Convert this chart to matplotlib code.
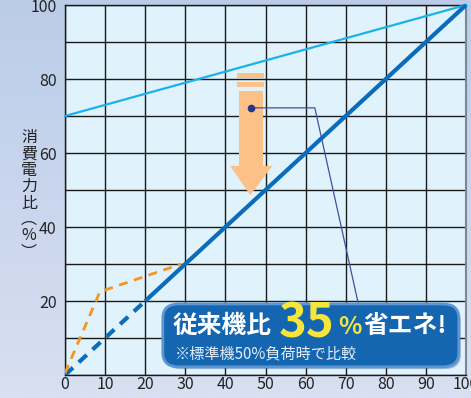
import numpy as np
import matplotlib
matplotlib.use("Agg")
import matplotlib.pyplot as plt
from matplotlib.patches import Rectangle, Polygon, FancyBboxPatch

plt.rcParams['font.family'] = ['Noto Sans CJK JP', 'DejaVu Sans']

# ---- data ----
x_ticks = [0, 10, 20, 30, 40, 50, 60, 70, 80, 90, 100]
y_ticks = [0, 10, 20, 30, 40, 50, 60, 70, 80, 90, 100]
y_tick_labels = ["", "", "20", "", "40", "", "60", "", "80", "", "100"]

cyan_x = [0, 100]
cyan_y = [70, 100]
blue_dash_x = [0, 20]
blue_dash_y = [0, 20]
blue_solid_x = [20, 100]
blue_solid_y = [20, 100]
orange_x = [0, 8.7, 29]
orange_y = [0.5, 22.5, 30]

ylabel_text = "消\n費\n電\n力\n比\n︵\n%\n︶"
headline_a = "従来機比"
headline_num = "35"
headline_pct = "%"
headline_b = "省エネ!"
note_text = "※標準機50%負荷時で比較"

# ---- figure ----
fig = plt.figure(figsize=(4.71, 3.98), dpi=100)

bg = fig.add_axes([0, 0, 1, 1], zorder=-10)
grad = np.linspace(0, 1, 256).reshape(-1, 1)
c_top = np.array([0xBB, 0xCC, 0xE9]) / 255
c_bot = np.array([0xD8, 0xE0, 0xF1]) / 255
img = c_top[None, None, :] * (1 - grad[:, :, None]) + c_bot[None, None, :] * grad[:, :, None]
bg.imshow(img, aspect='auto', extent=[0, 1, 0, 1], origin='upper')
bg.set_axis_off()

ax = fig.add_axes([65 / 471, 23 / 398, 401 / 471, 370 / 398])
ax.set_facecolor('#E0F2FC')
ax.set_xlim(0, 100)
ax.set_ylim(0, 100)
ax.set_xticks(x_ticks)
ax.set_yticks(y_ticks)
ax.set_xticklabels([str(v) for v in x_ticks])
ax.set_yticklabels(y_tick_labels)
ax.tick_params(length=0, labelsize=11.5, colors='#222222', pad=6)
ax.tick_params(axis='x', pad=1)
ax.grid(True, color='#1a1a1a', lw=1.0, zorder=0)
ax.set_axisbelow(True)
for s in ['left', 'bottom', 'top']:
    ax.spines[s].set_color('#1a1a1a')
    ax.spines[s].set_linewidth(1.0)
ax.spines['right'].set_color('#7b8796')
ax.spines['right'].set_linewidth(1.5)

# arrow (light orange)
arrow_c = '#FCC187'
ax.add_patch(Rectangle((42.9, 80.2), 6.85, 1.5, color=arrow_c, lw=0, zorder=2))
ax.add_patch(Rectangle((42.9, 77.9), 6.85, 1.3, color=arrow_c, lw=0, zorder=2))
ax.add_patch(Rectangle((43.3, 56.3), 6.1, 20.5, color=arrow_c, lw=0, zorder=2))
ax.add_patch(Polygon([(41.2, 56.5), (51.7, 56.5), (46.2, 48.6)], closed=True,
                     color=arrow_c, lw=0, zorder=2))

# lines
ax.plot(cyan_x, cyan_y, color='#1AB2EA', lw=1.6, zorder=3, clip_on=False)
ax.plot(blue_dash_x, blue_dash_y, color='#0A6DBC', lw=3.0, ls=(0, (2.6, 1.9)),
        zorder=3)
ax.plot(blue_solid_x, blue_solid_y, color='#0A6DBC', lw=3.0, zorder=3,
        solid_capstyle='butt', clip_on=False)
ax.plot(orange_x, orange_y, color='#F7941D', lw=2.0, ls=(0, (3.2, 2.4)), zorder=3)

# callout leader
ax.plot([46.4, 62.3, 73.3], [72.2, 72.2, 18.5], color='#3F52A0', lw=0.9, zorder=4)
ax.plot([46.4], [72.2], 'o', color='#24368A', ms=4.5, zorder=5)

# callout box
shadow = FancyBboxPatch((24.9, 1.6), 73.8, 16.9,
                        boxstyle="round,pad=0,rounding_size=4",
                        mutation_aspect=0.95, fc='#3a4a6a', ec='none',
                        alpha=0.35, zorder=5)
ax.add_patch(shadow)
box = FancyBboxPatch((24.4, 2.2), 73.8, 17.0,
                     boxstyle="round,pad=0,rounding_size=4",
                     mutation_aspect=0.95, fc='#1466B1', ec='#5C95D6',
                     lw=2.0, zorder=6)
ax.add_patch(box)

ax.text(26.9, 13.3, headline_a, color='white', fontsize=17.8, fontweight='bold',
        ha='left', va='center', zorder=7)
ax.text(53.2, 13.8, headline_num, color='#F6E63C', fontsize=34, fontweight='bold',
        ha='left', va='center', zorder=7)
ax.text(68.2, 13.0, headline_pct, color='#F6E63C', fontsize=17.5, fontweight='bold',
        ha='left', va='center', zorder=7)
ax.text(74.4, 13.3, headline_b, color='white', fontsize=17.8, fontweight='bold',
        ha='left', va='center', zorder=7)
ax.text(27.3, 5.8, note_text, color='#E4EEF9', fontsize=10.9,
        ha='left', va='center', zorder=7)

# y label (vertical stacked)
fig.text(29 / 471, 1 - 195 / 398, ylabel_text, fontsize=11.5, color='#222222',
         ha='center', va='center', linespacing=0.95)

fig.savefig('out.png', dpi=100)
